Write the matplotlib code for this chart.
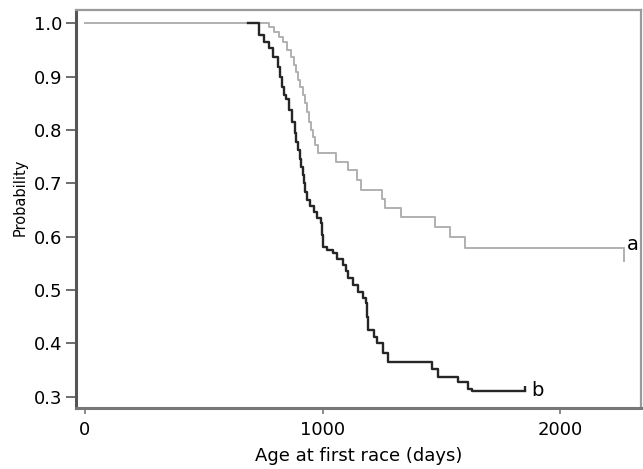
import matplotlib
matplotlib.use('Agg')
from matplotlib import pyplot as plt

plt.rcParams['font.family'] = ['DejaVu Sans']

# curve a (light grey)
a_days = [0, 773, 794, 815, 832, 849, 866, 878, 887, 895, 903, 916, 924, 933, 941, 950,
          958, 966, 979, 1055, 1109, 1143, 1160, 1252, 1261, 1328, 1475, 1538, 1601, 2269]
a_prob = [1.0, 0.993, 0.984, 0.974, 0.965, 0.950, 0.937, 0.922, 0.909, 0.894, 0.881, 0.865,
          0.850, 0.834, 0.815, 0.800, 0.787, 0.772, 0.757, 0.740, 0.725, 0.706, 0.687, 0.670,
          0.654, 0.636, 0.618, 0.599, 0.578, 0.578]

# curve b (dark)
b_days = [685, 731, 752, 773, 790, 811, 820, 828, 836, 845, 857, 870, 882, 890, 897, 903,
          910, 916, 922, 928, 935, 945, 962, 975, 992, 996, 1000, 1020, 1042, 1060, 1084,
          1100, 1109, 1130, 1151, 1170, 1181, 1186, 1193, 1215, 1231, 1256, 1277, 1462,
          1487, 1571, 1613, 1630, 1853]
b_prob = [1.0, 0.978, 0.965, 0.954, 0.937, 0.918, 0.899, 0.881, 0.865, 0.858, 0.837, 0.815,
          0.794, 0.778, 0.762, 0.746, 0.731, 0.715, 0.700, 0.684, 0.668, 0.657, 0.646, 0.635,
          0.625, 0.603, 0.580, 0.575, 0.569, 0.558, 0.547, 0.535, 0.522, 0.509, 0.496, 0.485,
          0.475, 0.450, 0.425, 0.412, 0.400, 0.383, 0.365, 0.353, 0.337, 0.327, 0.315, 0.310,
          0.310]

xticks = [0, 1000, 2000]
yticks = [0.3, 0.4, 0.5, 0.6, 0.7, 0.8, 0.9, 1.0]

fig = plt.figure(figsize=(6.43, 4.69), dpi=100)
ax = fig.add_axes([0.118, 0.130, 0.879, 0.849])

ax.step(a_days, a_prob, where='post', c='#b0b0b0', lw=1.4)
ax.step(b_days, b_prob, where='post', c='#262626', lw=1.7)
# censor ticks at the ends
ax.vlines(a_days[-1], a_prob[-1] - 0.026, a_prob[-1], color='#b0b0b0', lw=1.4)
ax.vlines(b_days[-1], b_prob[-1], b_prob[-1] + 0.01, color='#262626', lw=1.7)
ax.annotate('a', (a_days[-1], a_prob[-1]), xytext=(2, 3), textcoords='offset points',
            fontsize=14, va='center', ha='left')
ax.annotate('b', (b_days[-1], b_prob[-1]), xytext=(4, 1), textcoords='offset points',
            fontsize=14, va='center', ha='left')

ax.set_xlim(-38, 2340)
ax.set_ylim(0.279, 1.025)
ax.set_xticks(xticks)
ax.set_yticks(yticks)
ax.set_yticklabels(['%.1f' % v for v in yticks])
ax.tick_params(axis='y', length=7.5, width=1.2, color='#555555', pad=2, labelsize=13)
ax.tick_params(axis='x', length=4.5, width=1.2, color='#777777', pad=5, labelsize=13)
ax.set_xlabel('Age at first race (days)', fontsize=13)
ax.set_ylabel('Probability', fontsize=10.5)
ax.xaxis.set_label_coords(0.5, -0.098)
ax.yaxis.set_label_coords(-0.085, 0.53)

ax.spines['left'].set_color('#555555')
ax.spines['left'].set_linewidth(2.2)
ax.spines['bottom'].set_color('#777777')
ax.spines['bottom'].set_linewidth(2.2)
ax.spines['top'].set_color('#9a9a9a')
ax.spines['top'].set_linewidth(1.6)
ax.spines['right'].set_color('#9a9a9a')
ax.spines['right'].set_linewidth(1.6)

plt.savefig('out.png', dpi=100)
